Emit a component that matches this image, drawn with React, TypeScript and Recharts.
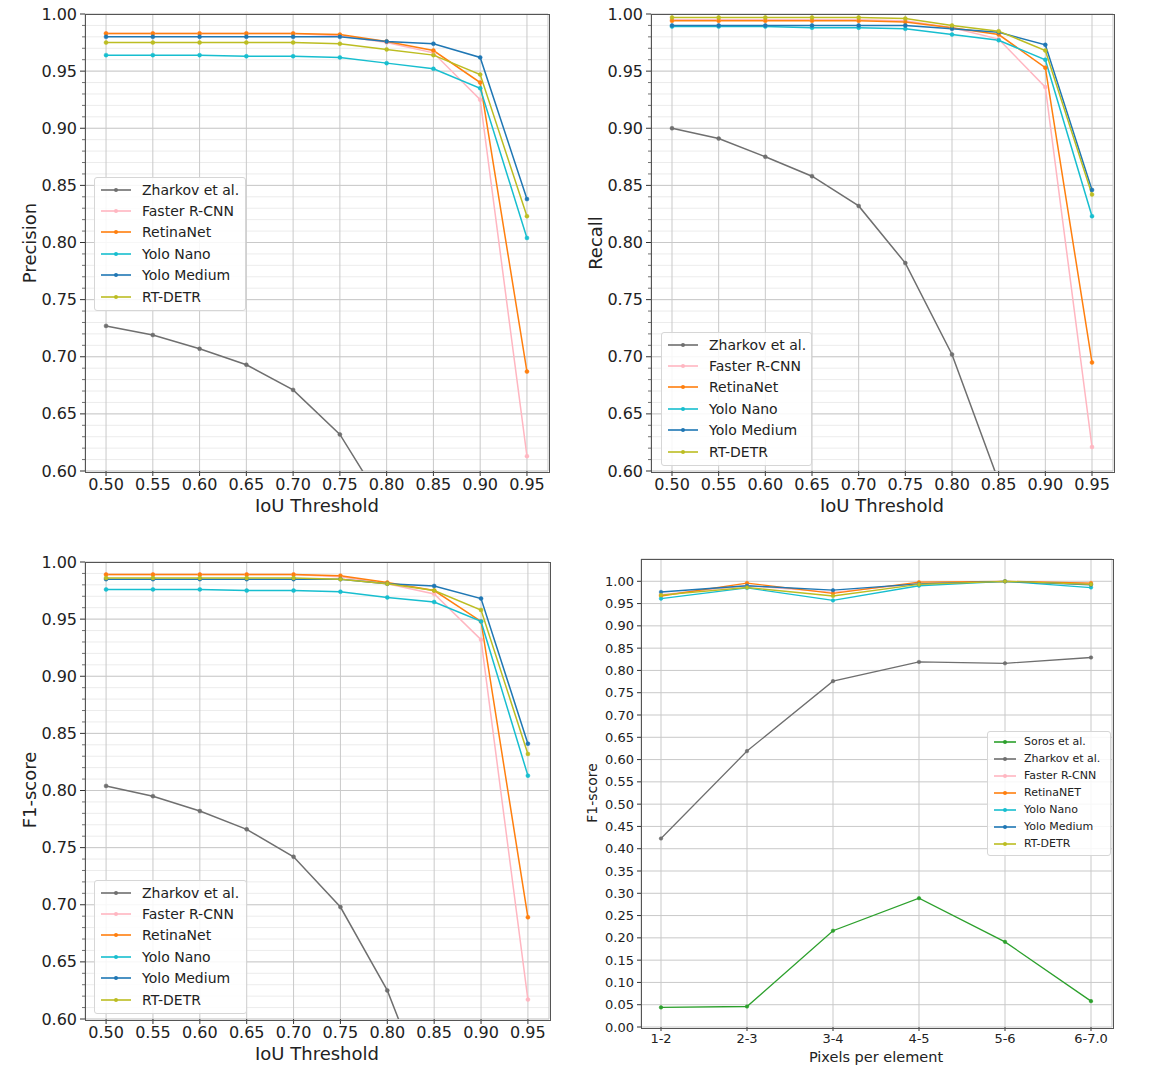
import React from "react";
import { CartesianGrid, Legend, Line, LineChart, XAxis, YAxis } from "recharts";

const FONT = "'DejaVu Sans', 'Liberation Sans', sans-serif";
const TEXT = "#222";

// x values for the IoU panels
const iouThresholds = [0.5, 0.55, 0.6, 0.65, 0.7, 0.75, 0.8, 0.85, 0.9, 0.95];
const iouTickLabels = ["0.50", "0.55", "0.60", "0.65", "0.70", "0.75", "0.80", "0.85", "0.90", "0.95"];
const iouMajorY = [0.6, 0.65, 0.7, 0.75, 0.8, 0.85, 0.9, 0.95, 1.0];

const iouNames = ["Zharkov et al.", "Faster R-CNN", "RetinaNet", "Yolo Nano", "Yolo Medium", "RT-DETR"];
const iouKeys = ["zharkov", "faster", "retina", "nano", "medium", "rtdetr"];
const iouColors = ["#6f6f6f", "#ffb6c1", "#ff7f0e", "#17becf", "#1f77b4", "#bcbd22"];

// Precision
const precZharkov = [0.727, 0.719, 0.707, 0.693, 0.671, 0.632, 0.566, null, null, null];
const precFaster = [0.983, 0.983, 0.983, 0.983, 0.983, 0.981, 0.975, 0.966, 0.925, 0.613];
const precRetina = [0.983, 0.983, 0.983, 0.983, 0.983, 0.982, 0.976, 0.968, 0.94, 0.687];
const precNano = [0.964, 0.964, 0.964, 0.963, 0.963, 0.962, 0.957, 0.952, 0.935, 0.804];
const precMedium = [0.98, 0.98, 0.98, 0.98, 0.98, 0.98, 0.976, 0.974, 0.962, 0.838];
const precRtdetr = [0.975, 0.975, 0.975, 0.975, 0.975, 0.974, 0.969, 0.964, 0.947, 0.823];

// Recall
const recZharkov = [0.9, 0.891, 0.875, 0.858, 0.832, 0.782, 0.702, 0.591, null, null];
const recFaster = [0.995, 0.995, 0.995, 0.995, 0.995, 0.994, 0.988, 0.978, 0.936, 0.621];
const recRetina = [0.994, 0.994, 0.994, 0.994, 0.994, 0.993, 0.988, 0.982, 0.953, 0.695];
const recNano = [0.989, 0.989, 0.989, 0.988, 0.988, 0.987, 0.982, 0.977, 0.96, 0.823];
const recMedium = [0.99, 0.99, 0.99, 0.99, 0.99, 0.99, 0.987, 0.984, 0.973, 0.846];
const recRtdetr = [0.997, 0.997, 0.997, 0.997, 0.997, 0.996, 0.99, 0.985, 0.968, 0.842];

// F1-score
const f1Zharkov = [0.804, 0.795, 0.782, 0.766, 0.742, 0.698, 0.625, 0.52, null, null];
const f1Faster = [0.989, 0.989, 0.989, 0.989, 0.989, 0.987, 0.981, 0.972, 0.932, 0.617];
const f1Retina = [0.989, 0.989, 0.989, 0.989, 0.989, 0.988, 0.982, 0.975, 0.948, 0.689];
const f1Nano = [0.976, 0.976, 0.976, 0.975, 0.975, 0.974, 0.969, 0.965, 0.948, 0.813];
const f1Medium = [0.985, 0.985, 0.985, 0.985, 0.985, 0.985, 0.981, 0.979, 0.968, 0.841];
const f1Rtdetr = [0.986, 0.986, 0.986, 0.986, 0.986, 0.985, 0.981, 0.975, 0.958, 0.832];

// F1-score by pixels per element
const pixelBins = ["1-2", "2-3", "3-4", "4-5", "5-6", "6-7.0"];
const pixNames = ["Soros et al.", "Zharkov et al.", "Faster R-CNN", "RetinaNET", "Yolo Nano", "Yolo Medium", "RT-DETR"];
const pixKeys = ["soros", "zharkov", "faster", "retina", "nano", "medium", "rtdetr"];
const pixColors = ["#2ca02c", "#6f6f6f", "#ffb6c1", "#ff7f0e", "#17becf", "#1f77b4", "#bcbd22"];
const pixSoros = [0.044, 0.046, 0.216, 0.289, 0.191, 0.058];
const pixZharkov = [0.423, 0.619, 0.776, 0.819, 0.816, 0.829];
const pixFaster = [0.97, 0.99, 0.975, 0.995, 1.0, 0.995];
const pixRetina = [0.967, 0.996, 0.973, 0.998, 1.0, 0.996];
const pixNano = [0.961, 0.985, 0.957, 0.99, 1.0, 0.986];
const pixMedium = [0.976, 0.99, 0.98, 0.994, 1.0, 0.992];
const pixRtdetr = [0.969, 0.986, 0.967, 0.993, 1.0, 0.993];
const pixYTicks = [0, 0.05, 0.1, 0.15, 0.2, 0.25, 0.3, 0.35, 0.4, 0.45, 0.5, 0.55, 0.6, 0.65, 0.7, 0.75, 0.8, 0.85, 0.9, 0.95, 1.0];

function buildRows(xKey: string, xs: (number | string)[], keys: string[], cols: (number | null)[][]) {
  return xs.map((x, i) => {
    const row: Record<string, any> = { [xKey]: x };
    keys.forEach((k, j) => (row[k] = cols[j][i]));
    return row;
  });
}

const precRows = buildRows("iou", iouThresholds, iouKeys, [precZharkov, precFaster, precRetina, precNano, precMedium, precRtdetr]);
const recRows = buildRows("iou", iouThresholds, iouKeys, [recZharkov, recFaster, recRetina, recNano, recMedium, recRtdetr]);
const f1Rows = buildRows("iou", iouThresholds, iouKeys, [f1Zharkov, f1Faster, f1Retina, f1Nano, f1Medium, f1Rtdetr]);
const pixRows = buildRows("bin", pixelBins, pixKeys, [pixSoros, pixZharkov, pixFaster, pixRetina, pixNano, pixMedium, pixRtdetr]);

// minor ticks every 0.01 between 0.60 and 1.00
const iouMinorY: number[] = [];
for (let i = 60; i <= 100; i++) iouMinorY.push(i / 100);

function YTick(props: any) {
  const { x, y, payload } = props;
  const v = payload.value as number;
  const major = Math.round(v * 100) % 5 === 0;
  return (
    <g>
      <line x1={x - (major ? 5 : 3)} x2={x} y1={y} y2={y} stroke="#333" strokeWidth={major ? 1 : 0.7} />
      {major && (
        <text x={x - 8} y={y} dy="0.35em" textAnchor="end" fontSize={16} fill={TEXT}>
          {v.toFixed(2)}
        </text>
      )}
    </g>
  );
}

function LegendBox({ payload, order, width, rowH, fontSize, lineW }: any) {
  const items = [...(payload || [])].sort((a: any, b: any) => order.indexOf(a.value) - order.indexOf(b.value));
  return (
    <div
      style={{
        width,
        boxSizing: "border-box",
        background: "rgba(255,255,255,0.85)",
        border: "1px solid #d6d6d6",
        borderRadius: 3,
        padding: "1px 0 3px 6px",
        fontFamily: FONT,
        fontSize,
        color: TEXT,
      }}
    >
      {items.map((it: any) => (
        <div key={it.value} style={{ height: rowH, display: "flex", alignItems: "center", whiteSpace: "nowrap" }}>
          <svg width={lineW} height={8} style={{ marginRight: Math.round(lineW * 0.37), flex: "none" }}>
            <line x1={0} x2={lineW} y1={4} y2={4} stroke={it.color} strokeWidth={1.6} />
            <circle cx={lineW / 2} cy={4} r={2} fill={it.color} />
          </svg>
          <span>{it.value}</span>
        </div>
      ))}
    </div>
  );
}

function Frame({ l, t, r, b }: { l: number; t: number; r: number; b: number }) {
  return (
    <div
      style={{
        position: "absolute",
        left: l - 0.5,
        top: t - 0.5,
        width: r - l,
        height: b - t,
        border: "1px solid #555",
        pointerEvents: "none",
      }}
    />
  );
}

function Title({ x, y, text, size, vertical }: { x: number; y: number; text: string; size: number; vertical?: boolean }) {
  return (
    <div
      style={{
        position: "absolute",
        left: x,
        top: y,
        transform: `translate(-50%, -50%)${vertical ? " rotate(-90deg)" : ""}`,
        whiteSpace: "nowrap",
        fontSize: size,
        color: TEXT,
        lineHeight: 1,
      }}
    >
      {text}
    </div>
  );
}

function IouPanel({ left, top, height, data, margin, legendPos }: any) {
  return (
    <div style={{ position: "absolute", left, top }}>
      <LineChart width={560} height={height} data={data} margin={margin}>
        <CartesianGrid horizontalValues={iouMinorY} vertical={false} stroke="#ececec" />
        <CartesianGrid horizontalValues={iouMajorY} stroke="#c9c9c9" />
        <XAxis
          type="number"
          dataKey="iou"
          domain={[0.4775, 0.9725]}
          allowDataOverflow
          ticks={iouThresholds}
          interval={0}
          tickFormatter={(v: number) => iouTickLabels[iouThresholds.indexOf(v)] ?? v.toFixed(2)}
          height={30}
          axisLine={false}
          tickSize={5}
          tickMargin={3}
          tickLine={{ stroke: "#333" }}
          tick={{ fontSize: 16, fill: TEXT }}
        />
        <YAxis
          type="number"
          domain={[0.6, 1.0]}
          allowDataOverflow
          ticks={iouMinorY}
          interval={0}
          width={60}
          axisLine={false}
          tickLine={false}
          tickSize={0}
          tickMargin={0}
          tick={(p: any) => <YTick {...p} />}
        />
        {iouKeys.map((k, i) => (
          <Line
            key={k}
            type="linear"
            dataKey={k}
            name={iouNames[i]}
            stroke={iouColors[i]}
            strokeWidth={1.5}
            dot={{ r: 2, fill: iouColors[i], stroke: iouColors[i], strokeWidth: 0.5 }}
            activeDot={false}
            isAnimationActive={false}
          />
        ))}
        <Legend
          layout="vertical"
          align="center"
          verticalAlign="middle"
          wrapperStyle={{ left: legendPos.left, top: legendPos.top, width: "auto" }}
          content={(p: any) => (
            <LegendBox payload={p.payload} order={iouNames} width={legendPos.width} rowH={21.4} fontSize={14} lineW={30} />
          )}
        />
      </LineChart>
    </div>
  );
}

export default function App() {
  return (
    <div
      style={{
        position: "absolute",
        left: 0,
        top: 0,
        width: 1157,
        height: 1075,
        background: "#fff",
        fontFamily: FONT,
        overflow: "hidden",
      }}
    >
      <IouPanel left={0} top={0} height={530} data={precRows} margin={{ top: 14, right: 12, left: 25, bottom: 29 }} legendPos={{ left: 94, top: 177, width: 152 }} />
      <IouPanel left={566} top={0} height={530} data={recRows} margin={{ top: 14, right: 13, left: 25, bottom: 29 }} legendPos={{ left: 95, top: 332, width: 151 }} />
      <IouPanel left={0} top={548} height={527} data={f1Rows} margin={{ top: 14, right: 11, left: 25, bottom: 26 }} legendPos={{ left: 94, top: 332, width: 153 }} />

      <div style={{ position: "absolute", left: 566, top: 548 }}>
        <LineChart width={560} height={527} data={pixRows} margin={{ top: 11, right: 14, left: 25, bottom: 23 }}>
          <CartesianGrid stroke="#c9c9c9" />
          <XAxis
            dataKey="bin"
            type="category"
            padding={{ left: 20, right: 21 }}
            height={25}
            interval={0}
            axisLine={false}
            tickSize={4}
            tickMargin={3}
            tickLine={{ stroke: "#333" }}
            tick={{ fontSize: 13, fill: TEXT }}
          />
          <YAxis
            type="number"
            domain={[0, 1.05]}
            allowDataOverflow
            ticks={pixYTicks}
            interval={0}
            width={50}
            axisLine={false}
            tickSize={4}
            tickMargin={3}
            tickLine={{ stroke: "#333" }}
            tick={{ fontSize: 13, fill: TEXT }}
            tickFormatter={(v: number) => v.toFixed(2)}
          />
          {pixKeys.map((k, i) => (
            <Line
              key={k}
              type="linear"
              dataKey={k}
              name={pixNames[i]}
              stroke={pixColors[i]}
              strokeWidth={1.3}
              dot={{ r: 1.8, fill: pixColors[i], stroke: pixColors[i], strokeWidth: 0.5 }}
              activeDot={false}
              isAnimationActive={false}
            />
          ))}
          <Legend
            layout="vertical"
            align="center"
            verticalAlign="middle"
            wrapperStyle={{ left: 421, top: 183, width: "auto" }}
            content={(p: any) => (
              <LegendBox payload={p.payload} order={pixNames} width={124} rowH={17} fontSize={11} lineW={22} />
            )}
          />
        </LineChart>
      </div>

      <Frame l={85} t={14} r={548} b={471} />
      <Frame l={651} t={14} r={1113} b={471} />
      <Frame l={85} t={562} r={549} b={1019} />
      <Frame l={641} t={559} r={1112} b={1027} />

      <Title x={30} y={243} text="Precision" size={18} vertical />
      <Title x={317} y={506} text="IoU Threshold" size={18} />
      <Title x={596} y={243} text="Recall" size={18} vertical />
      <Title x={882} y={506} text="IoU Threshold" size={18} />
      <Title x={30} y={790} text="F1-score" size={18} vertical />
      <Title x={317} y={1054} text="IoU Threshold" size={18} />
      <Title x={592} y={793} text="F1-score" size={14} vertical />
      <Title x={876} y={1057} text="Pixels per element" size={14.5} />
    </div>
  );
}
